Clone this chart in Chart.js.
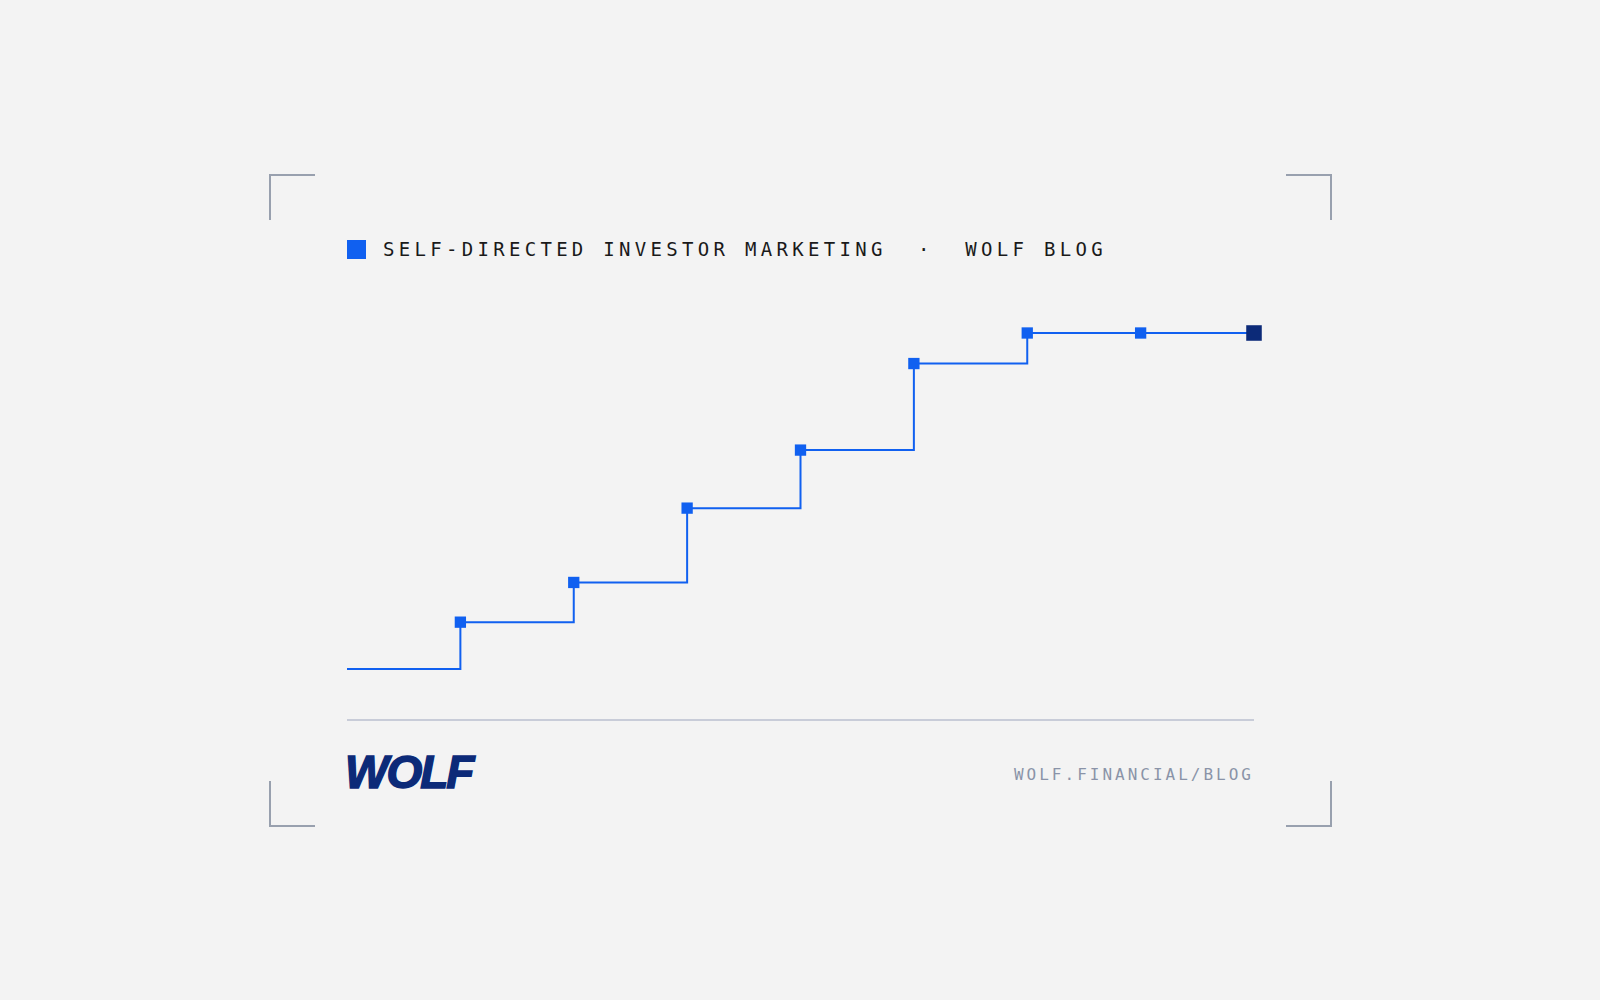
<!DOCTYPE html>
<html>
<head>
<meta charset="utf-8">
<script src="https://cdn.jsdelivr.net/npm/chart.js@4"></script>
<style>
  body { margin: 0; width: 1600px; height: 1000px; background: #f3f3f3; position: relative; overflow: hidden; font-family: "DejaVu Sans Mono", monospace; }
  .corner { position: absolute; width: 44px; height: 44px; border-color: #98a0ae; border-style: solid; border-width: 0; }
  .tl { left: 269px; top: 174px; border-top-width: 2px; border-left-width: 2px; }
  .tr { left: 1286px; top: 174px; border-top-width: 2px; border-right-width: 2px; }
  .bl { left: 269px; top: 781px; border-bottom-width: 2px; border-left-width: 2px; }
  .br { left: 1286px; top: 781px; border-bottom-width: 2px; border-right-width: 2px; }
  .sq { position: absolute; left: 347px; top: 240px; width: 19px; height: 19px; background: #1060f0; }
  .head { position: absolute; left: 383px; top: 236px; font-size: 19px; letter-spacing: 4.3px; color: #1a1a1a; white-space: pre; line-height: 26px; }
  .rule { position: absolute; left: 347px; top: 719px; width: 907px; height: 2px; background: #c8ccd8; }
  .logo { position: absolute; left: 345px; top: 752px; font-family: "Liberation Sans", sans-serif; font-weight: 900; font-style: italic; font-size: 46px; letter-spacing: -2px; color: #0c2a78; line-height: 40px; -webkit-text-stroke: 1.5px #0c2a78; }
  .url { position: absolute; right: 346px; top: 765px; font-size: 16px; letter-spacing: 3px; color: #8a93a8; }
  #wrap { position: absolute; left: 335px; top: 321px; width: 931px; height: 360px; }
</style>
</head>
<body>
<div class="corner tl"></div><div class="corner tr"></div>
<div class="corner bl"></div><div class="corner br"></div>
<div class="sq"></div>
<div class="head">SELF-DIRECTED INVESTOR MARKETING  ·  WOLF BLOG</div>
<div id="wrap"><canvas id="chart"></canvas></div>
<div class="rule"></div>
<div class="logo">WOLF</div>
<div class="url">WOLF.FINANCIAL/BLOG</div>
<script>
const labels = ['0', '1', '2', '3', '4', '5', '6', '7', '8'];
const values = [0, 46, 85, 158, 215, 300, 330, 330, 330];

const pointSizes = values.map((v, i) => i === 0 ? 0 : (i === values.length - 1 ? 11 : 8));
const pointColors = values.map((v, i) => i === values.length - 1 ? '#0c2a78' : '#1060f0');

new Chart(document.getElementById('chart'), {
    type: 'line',
    data: {
        labels: labels,
        datasets: [{
            data: values,
            stepped: 'before',
            borderColor: '#1060f0',
            borderWidth: 2,
            pointStyle: 'rect',
            pointRadius: pointSizes,
            pointBackgroundColor: pointColors,
            pointBorderWidth: 0,
            clip: false
        }]
    },
    options: {
        responsive: true,
        maintainAspectRatio: false,
        animation: false,
        layout: { padding: 12 },
        scales: {
            x: { display: false, offset: false },
            y: { display: false, min: 0, max: 330 }
        },
        plugins: {
            legend: { display: false },
            tooltip: { enabled: false }
        }
    }
});
</script>
</body>
</html>
